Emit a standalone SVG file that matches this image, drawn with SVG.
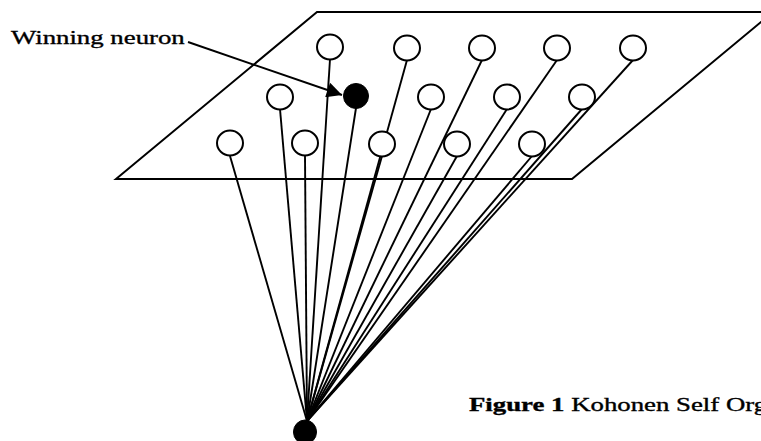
<svg xmlns="http://www.w3.org/2000/svg" width="761" height="441" viewBox="0 0 761 441">
  <style>
    .edge { stroke: #000; stroke-width: 2; fill: none; }
    .conn { stroke: #000; stroke-width: 1.9; fill: none; }
    .neuron { fill: #fff; stroke: #000; stroke-width: 2; }
    .win { fill: #000; stroke: #000; stroke-width: 1; }
    .lbl { font-family: "Liberation Serif", "Times New Roman", serif; font-size: 19px; fill: #000; stroke: #000; stroke-width: 0.35; }
  </style>
  <defs>
    <marker id="ah" viewBox="0 0 10 10" refX="10" refY="5" markerWidth="10" markerHeight="8" markerUnits="strokeWidth" orient="auto">
      <path d="M0,0 L10,5 L0,10 Z" fill="#000"/>
    </marker>
  </defs>
  <rect width="761" height="441" fill="#fff"/>
  <g id="plane">
    <polygon class="edge" points="116,179 317,12 773,12 572,179"/>
  </g>
  <g id="connectors">
    <line class="conn" x1="330" y1="59" x2="307" y2="421"/>
    <line class="conn" x1="407" y1="60" x2="307" y2="421"/>
    <line class="conn" x1="482" y1="60" x2="307" y2="421"/>
    <line class="conn" x1="557" y1="60" x2="307" y2="421"/>
    <line class="conn" x1="633" y1="60" x2="307" y2="421"/>
    <line class="conn" x1="280" y1="109" x2="307" y2="421"/>
    <line class="conn" x1="356" y1="108" x2="307" y2="421"/>
    <line class="conn" x1="431" y1="109" x2="307" y2="421"/>
    <line class="conn" x1="507" y1="109" x2="307" y2="421"/>
    <line class="conn" x1="582" y1="109" x2="307" y2="421"/>
    <line class="conn" x1="230" y1="156" x2="307" y2="421"/>
    <line class="conn" x1="305" y1="156" x2="307" y2="421"/>
    <line class="conn" x1="382" y1="156" x2="307" y2="421"/>
    <line class="conn" x1="457" y1="156" x2="307" y2="421"/>
    <line class="conn" x1="532" y1="156" x2="307" y2="421"/>
  </g>
  <g id="n1-1"><ellipse class="neuron" cx="330" cy="47" rx="13" ry="12.5"/></g>
  <g id="n1-2"><ellipse class="neuron" cx="407" cy="48" rx="13" ry="12.5"/></g>
  <g id="n1-3"><ellipse class="neuron" cx="482" cy="48" rx="13" ry="12.5"/></g>
  <g id="n1-4"><ellipse class="neuron" cx="557" cy="48" rx="13" ry="12.5"/></g>
  <g id="n1-5"><ellipse class="neuron" cx="633" cy="48" rx="13" ry="12.5"/></g>
  <g id="n2-1"><ellipse class="neuron" cx="280" cy="97" rx="13" ry="12.5"/></g>
  <g id="n2-2"><ellipse class="win" cx="356" cy="96" rx="12.5" ry="12.5"/></g>
  <g id="n2-3"><ellipse class="neuron" cx="431" cy="97" rx="13" ry="12.5"/></g>
  <g id="n2-4"><ellipse class="neuron" cx="507" cy="97" rx="13" ry="12.5"/></g>
  <g id="n2-5"><ellipse class="neuron" cx="582" cy="97" rx="13" ry="12.5"/></g>
  <g id="n3-1"><ellipse class="neuron" cx="230" cy="143" rx="13" ry="12.5"/></g>
  <g id="n3-2"><ellipse class="neuron" cx="305" cy="143" rx="13" ry="12.5"/></g>
  <g id="n3-3"><ellipse class="neuron" cx="382" cy="144" rx="13" ry="12.5"/></g>
  <g id="n3-4"><ellipse class="neuron" cx="457" cy="144" rx="13" ry="12.5"/></g>
  <g id="n3-5"><ellipse class="neuron" cx="532" cy="144" rx="13" ry="12.5"/></g>
  <g id="input"><ellipse class="win" cx="305" cy="432" rx="11.5" ry="12"/></g>
  <g id="label">
    <text class="lbl" transform="translate(11,44) scale(1.41,1)">Winning neuron</text>
    <line class="conn" x1="188" y1="42" x2="342" y2="95" marker-end="url(#ah)"/>
  </g>
  <g id="caption">
    <text class="lbl" transform="translate(469,411) scale(1.41,1)"><tspan font-weight="bold">Figure 1</tspan> Kohonen Self Organizing Map</text>
  </g>
</svg>
